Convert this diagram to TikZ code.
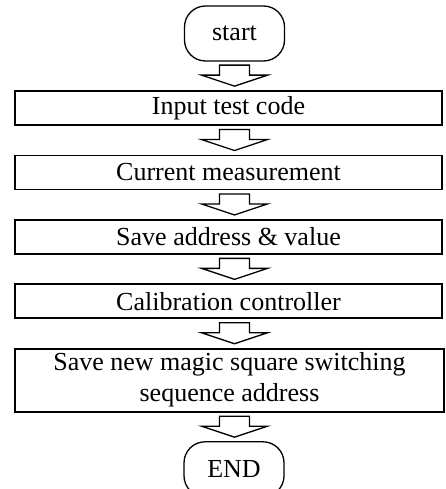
\documentclass[tikz,border=0pt]{standalone}
\usepackage{fontspec}
\setmainfont{Liberation Serif}
\usetikzlibrary{positioning,calc}
\tikzset{
  bloc/.style     = {draw, line width=1.9pt, align=center, inner sep=2pt,
                     minimum width=427pt, minimum height=34pt,
                     font=\fontsize{26}{31}\selectfont},
  capat/.style    = {draw, line width=1.3pt, rounded corners=21pt, align=center,
                     minimum width=100pt, minimum height=55pt,
                     font=\fontsize{26}{31}\selectfont},
  sageatagoala/.style = {draw, line width=1.3pt, line join=miter}
}
% sageata goala (contur) intre doua blocuri
\newcommand{\sageatabloc}[2]{%
  \draw[sageatagoala] let \p1 = (#1.south), \p2 = (#2.north), \p3 = (start.center) in
    (\x3-15pt,\y1-3.5pt) -- (\x3+15pt,\y1-3.5pt) -- (\x3+15pt,\y2+15pt)
    -- (\x3+33pt,\y2+15pt) -- (\x3,\y2+4pt) -- (\x3-33pt,\y2+15pt)
    -- (\x3-15pt,\y2+15pt) -- cycle;}

\begin{document}
\begin{tikzpicture}[node distance=28.5pt]
        \useasboundingbox (0,0) rectangle (445pt,-489pt);
        \node[capat] (start) at (234.5pt,-33.5pt) {start};
        \node[bloc, below=of start, xshift=-6pt] (cod) {Input test code};
        \node[bloc, below=of cod] (masura) {Current measurement};
        \node[bloc, below=of masura] (salvare) {Save address \& value};
        \node[bloc, below=of salvare] (calib) {Calibration controller};
        \node[bloc, minimum width=429pt, minimum height=63pt, below=of calib, xshift=1pt] (secventa) {Save new magic square switching\\ sequence address};
        \node[capat, below=of secventa, xshift=4.5pt] (sfarsit) {END};

        \sageatabloc{start}{cod}
        \sageatabloc{cod}{masura}
        \sageatabloc{masura}{salvare}
        \sageatabloc{salvare}{calib}
        \sageatabloc{calib}{secventa}
        \sageatabloc{secventa}{sfarsit}
    \end{tikzpicture}
\end{document}
